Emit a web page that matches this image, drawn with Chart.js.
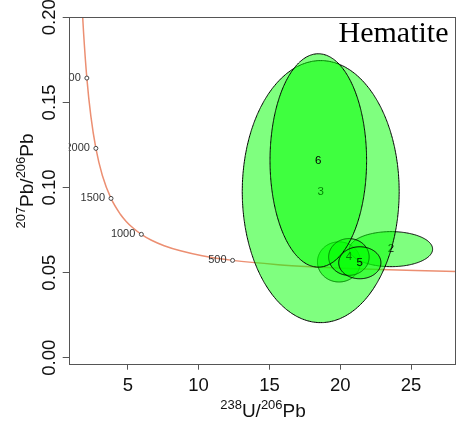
<!DOCTYPE html>
<html>
<head>
<meta charset="utf-8">
<script src="https://cdn.jsdelivr.net/npm/chart.js@4.4.1/dist/chart.umd.min.js"></script>
<style>
  html, body { margin: 0; padding: 0; background: #fff; }
  canvas { display: block; }
</style>
</head>
<body>
<canvas id="concordia" width="457" height="425"></canvas>
<script>
// Concordia curve (238U/206Pb vs 207Pb/206Pb)
const concordiaX = [31.735, 25.289, 20.992, 17.923, 15.621, 12.399, 10.252, 8.718, 7.568, 6.674, 5.959, 5.375, 4.888, 4.476, 3.817, 3.206, 2.749, 2.394, 2.111, 1.880, 1.799];
const concordiaY = [0.0501, 0.0512, 0.0523, 0.0535, 0.0547, 0.0572, 0.0599, 0.0628, 0.0658, 0.0690, 0.0725, 0.0762, 0.0801, 0.0843, 0.0936, 0.1071, 0.1230, 0.1419, 0.1643, 0.1909, 0.2029];

// Age markers on the curve (Ma)
const ageLabels = ["500", "1000", "1500", "2000", "2500"];
const ageX = [12.399, 5.959, 3.817, 2.749, 2.111];
const ageY = [0.0572, 0.0725, 0.0936, 0.1230, 0.1643];

// Error ellipses, one per aliquot (first label sits hidden under the others)
const ellipseLabels = ["", "2", "3", "4", "5", "6"];
const centreX = [19.91, 23.58, 18.62, 20.61, 21.38, 18.45];
const centreY = [0.0563, 0.0638, 0.0976, 0.0592, 0.0558, 0.1159];
const radiusX = [1.52, 2.94, 5.54, 1.43, 1.49, 3.41];
const radiusY = [0.0118, 0.0103, 0.0770, 0.0108, 0.0094, 0.0627];

// Axis ticks
const xTicks = [5, 10, 15, 20, 25];
const yTicks = [0, 0.05, 0.1, 0.15, 0.2];

const SANS = "'Liberation Sans', Arial, Helvetica, sans-serif";
Chart.defaults.font.family = SANS;

function ellipseOutline(i) {
  const pts = [];
  for (let k = 0; k <= 90; k++) {
    const a = (k / 90) * 2 * Math.PI;
    pts.push({ x: centreX[i] + radiusX[i] * Math.cos(a), y: centreY[i] + radiusY[i] * Math.sin(a) });
  }
  return pts;
}

// draw text with superscripts, centred on (0,0) of the current transform
function drawMixed(ctx, parts) {
  const widths = parts.map((p) => {
    ctx.font = (p.sup ? "13px " : "19px ") + SANS;
    return ctx.measureText(p.t).width;
  });
  let pos = -widths.reduce((a, b) => a + b, 0) / 2;
  parts.forEach((p, i) => {
    ctx.font = (p.sup ? "13px " : "19px ") + SANS;
    ctx.fillText(p.t, pos, p.sup ? -8.3 : 0);
    pos += widths[i];
  });
}

const decorations = {
  id: "decorations",
  afterDatasetDraw(chart, args) {
    const { ctx, chartArea, scales } = chart;
    const ds = chart.data.datasets[args.index];
    if (ds.label === "ages") {
      ctx.save();
      ctx.beginPath();
      ctx.rect(chartArea.left, chartArea.top, chartArea.width, chartArea.height);
      ctx.clip();
      ctx.font = "11px " + SANS;
      ctx.fillStyle = "#333";
      ctx.textAlign = "right";
      ctx.textBaseline = "middle";
      ageLabels.forEach((t, i) => {
        ctx.fillText(t, scales.x.getPixelForValue(ageX[i]) - 6, scales.y.getPixelForValue(ageY[i]));
      });
      ctx.restore();
    } else if (ds.ellipse !== undefined && ellipseLabels[ds.ellipse]) {
      const i = ds.ellipse;
      ctx.save();
      ctx.font = "11.5px " + SANS;
      ctx.fillStyle = "#000";
      ctx.textAlign = "center";
      ctx.textBaseline = "middle";
      ctx.fillText(ellipseLabels[i], scales.x.getPixelForValue(centreX[i]), scales.y.getPixelForValue(centreY[i]));
      ctx.restore();
    }
  },
  afterDraw(chart) {
    const { ctx, chartArea, scales } = chart;
    ctx.save();
    // plot box
    ctx.strokeStyle = "#555";
    ctx.lineWidth = 1;
    ctx.strokeRect(Math.round(chartArea.left) + 0.5, Math.round(chartArea.top) + 0.5,
      Math.round(chartArea.right) - Math.round(chartArea.left) - 1, Math.round(chartArea.bottom) - Math.round(chartArea.top));

    // rotated y tick labels
    ctx.fillStyle = "#111";
    ctx.font = "18.5px " + SANS;
    ctx.textAlign = "center";
    ctx.textBaseline = "alphabetic";
    yTicks.forEach((v) => {
      ctx.save();
      ctx.translate(54.5, scales.y.getPixelForValue(v));
      ctx.rotate(-Math.PI / 2);
      ctx.fillText(v.toFixed(2), 0, 0);
      ctx.restore();
    });

    // axis titles
    ctx.textAlign = "left";
    ctx.save();
    ctx.translate(263, 417.3);
    drawMixed(ctx, [{ t: "238", sup: true }, { t: "U/" }, { t: "206", sup: true }, { t: "Pb" }]);
    ctx.restore();
    ctx.save();
    ctx.translate(33.3, 181);
    ctx.rotate(-Math.PI / 2);
    drawMixed(ctx, [{ t: "207", sup: true }, { t: "Pb/" }, { t: "206", sup: true }, { t: "Pb" }]);
    ctx.restore();

    // mineral name
    ctx.font = "30px 'Liberation Serif', 'Times New Roman', serif";
    ctx.fillStyle = "#000";
    ctx.textAlign = "right";
    ctx.fillText("Hematite", 448.5, 42.3);
    ctx.restore();
  },
};

const datasets = [
  {
    label: "concordia",
    data: concordiaX.map((x, i) => ({ x, y: concordiaY[i] })),
    showLine: true,
    borderColor: "#ec8f72",
    borderWidth: 1.5,
    pointRadius: 0,
    cubicInterpolationMode: "monotone",
    order: 100,
  },
  {
    label: "ages",
    data: ageX.map((x, i) => ({ x, y: ageY[i] })),
    showLine: false,
    pointRadius: 2,
    pointBorderWidth: 1,
    pointBorderColor: "#444",
    pointBackgroundColor: "#fff",
    order: 99,
  },
];
centreX.forEach((_, i) => {
  datasets.push({
    label: "ellipse " + (i + 1),
    ellipse: i,
    data: ellipseOutline(i),
    showLine: true,
    fill: "shape",
    backgroundColor: "rgba(0, 255, 0, 0.5)",
    borderColor: "#000",
    borderWidth: 1,
    pointRadius: 0,
    tension: 0.0001, // avoids the fast path that collapses same-x points into bars
    order: 50 - i, // later aliquots drawn on top
  });
});

new Chart(document.getElementById("concordia").getContext("2d"), {
  type: "scatter",
  data: { datasets },
  options: {
    responsive: false,
    animation: false,
    devicePixelRatio: 1,
    layout: { autoPadding: false, padding: { top: 17.3, right: 1, left: 0, bottom: 0 } },
    plugins: { legend: { display: false }, tooltip: { enabled: false } },
    scales: {
      x: {
        type: "linear",
        min: 0.83,
        max: 28.17,
        afterBuildTicks: (s) => { s.ticks = xTicks.map((v) => ({ value: v })); },
        afterFit: (s) => {
          s.height = 61.3;
          s.paddingLeft = 0;
          s.paddingRight = 0;
        },
        grid: { drawOnChartArea: false, drawTicks: true, tickLength: 6, color: "#555" },
        border: { display: false },
        ticks: { font: { size: 18.5 }, color: "#111", padding: 5, maxRotation: 0, autoSkip: false },
      },
      y: {
        type: "linear",
        min: -0.0035,
        max: 0.2,
        afterBuildTicks: (s) => { s.ticks = yTicks.map((v) => ({ value: v })); },
        afterFit: (s) => {
          s.width = 68.7;
          s.paddingTop = 0;
          s.paddingBottom = 0;
        },
        grid: { drawOnChartArea: false, drawTicks: true, tickLength: 6, color: "#555" },
        border: { display: false },
        ticks: { display: false },
      },
    },
  },
  plugins: [decorations],
});
</script>
</body>
</html>
